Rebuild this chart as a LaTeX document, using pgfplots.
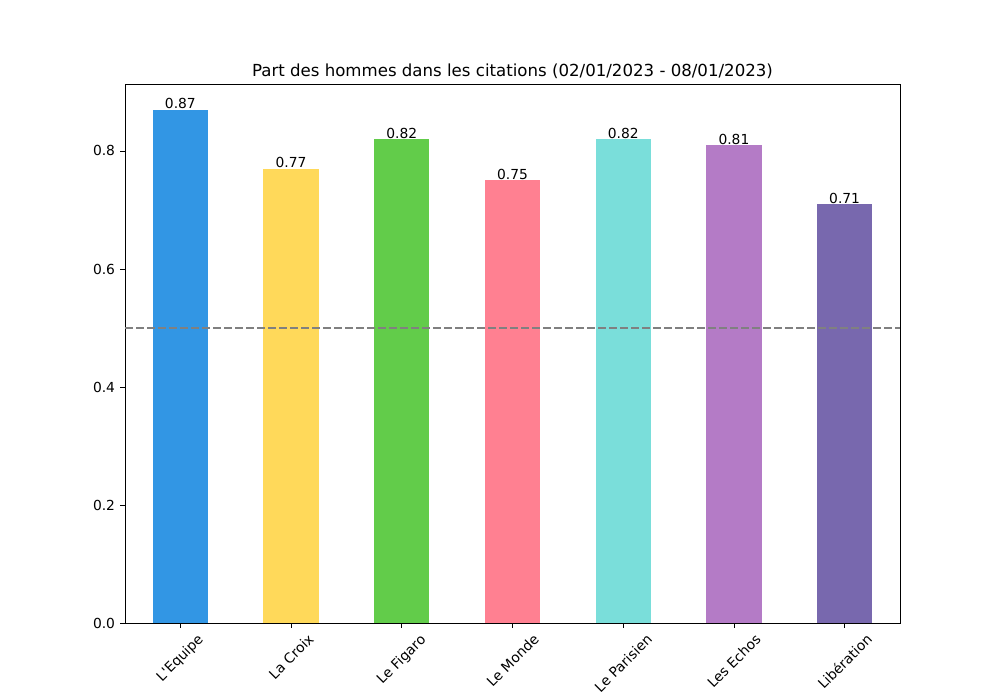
\documentclass[border=0pt]{standalone}
\usepackage{graphicx}
\usepackage{fontspec}
\setmainfont{DejaVu Sans}
\usepackage{pgfplots}
\pgfplotsset{compat=1.18}
\definecolor{c1}{RGB}{50,150,228}
\definecolor{c2}{RGB}{255,217,90}
\definecolor{c3}{RGB}{98,204,74}
\definecolor{c4}{RGB}{255,128,145}
\definecolor{c5}{RGB}{122,222,218}
\definecolor{c6}{RGB}{180,123,198}
\definecolor{c7}{RGB}{120,104,174}
\begin{document}
\begin{tikzpicture}
\path[use as bounding box] (0pt,0pt) rectangle (722.7pt,505.89pt);
\begin{axis}[
  at={(90.34pt,55.65pt)}, anchor=south west,
  scale only axis,
  width=560.09pt, height=389.54pt,
  xmin=-0.5, xmax=6.5, ymin=0, ymax=0.9135,
  xtick={0,1,2,3,4,5,6},
  xticklabels={\rotatebox{45}{L\textquotesingle Equipe},\rotatebox{45}{La Croix},\rotatebox{45}{Le Figaro},\rotatebox{45}{Le Monde},\rotatebox{45}{Le Parisien},\rotatebox{45}{Les Echos},\rotatebox{45}{Libération}},
  xticklabel style={anchor=north, inner sep=0pt, yshift=-3.5pt, font=\fontsize{10}{12}\selectfont},
  ytick={0,0.2,0.4,0.6,0.8},
  yticklabel style={inner sep=0pt, xshift=-3.5pt, font=\fontsize{10}{12}\selectfont,
    /pgf/number format/fixed, /pgf/number format/fixed zerofill, /pgf/number format/precision=1},
  /pgf/number format/assume math mode=true,
  tick align=outside, tick pos=left, major tick length=3.5pt,
  tick style={black, line width=0.6pt},
  axis line style={black, line width=0.6pt},
  title={Part des hommes dans les citations (02/01/2023 - 08/01/2023)},
  title style={font=\fontsize{12}{14}\selectfont, anchor=base, at={(0.5,1)}, yshift=-0.9pt, inner sep=0pt},
  ybar, bar width=0.5, bar shift=0pt,
  nodes near coords,
  nodes near coords style={anchor=south, inner sep=0pt, yshift=0.3pt, font=\fontsize{10}{12}\selectfont, text=black,
    /pgf/number format/fixed, /pgf/number format/fixed zerofill, /pgf/number format/precision=2},
]
\addplot[fill=c1, draw=none] coordinates {(0,0.87)};
\addplot[fill=c2, draw=none] coordinates {(1,0.77)};
\addplot[fill=c3, draw=none] coordinates {(2,0.82)};
\addplot[fill=c4, draw=none] coordinates {(3,0.75)};
\addplot[fill=c5, draw=none] coordinates {(4,0.82)};
\addplot[fill=c6, draw=none] coordinates {(5,0.81)};
\addplot[fill=c7, draw=none] coordinates {(6,0.71)};
\draw[gray, line width=1.5pt, dash pattern=on 5.55pt off 2.4pt] (axis cs:-0.5,0.5) -- (axis cs:6.5,0.5);
\end{axis}
\end{tikzpicture}
\end{document}
